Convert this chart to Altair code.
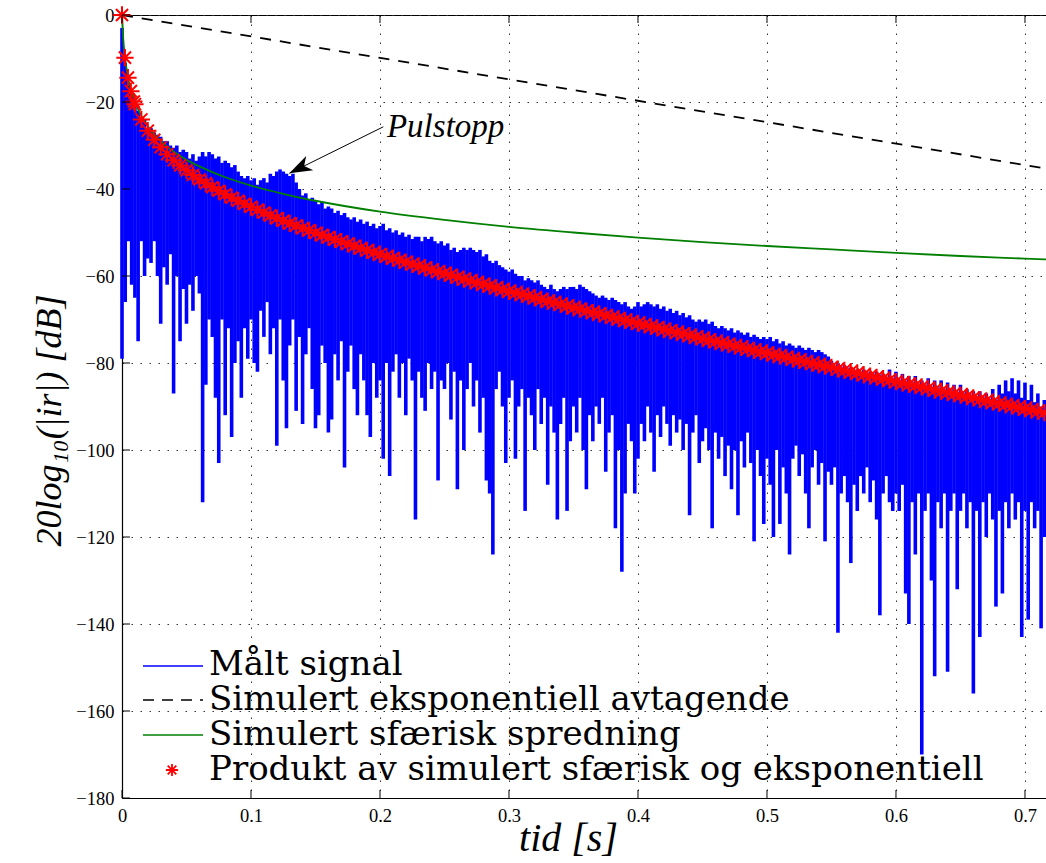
import altair as alt
import pandas as pd

# ---------------- data ----------------
X_MAX = 0.7163
x_ticks = [0, 0.1, 0.2, 0.3, 0.4, 0.5, 0.6, 0.7]
y_ticks = [-180, -160, -140, -120, -100, -80, -60, -40, -20, 0]

series_names = [
    "Målt signal",
    "Simulert eksponentiell avtagende",
    "Simulert sfærisk spredning",
    "Produkt av simulert sfærisk og eksponentiell",
]

# measured signal: upper and lower extent in each 2.5 ms column (dB)
SIG_STEP = 0.0025
sig_top = [
    -3, -11, -16, -18, -21, -22, -24, -24, -26, -26, -27, -27.5, -28, -29, -29, -30, -30.5, -30, -31.5, -31,
    -31.5, -33, -32, -33.5, -32.5, -31.5, -32.5, -31.5, -32, -33, -32.5, -34, -33.5, -34, -35, -34.5, -36, -37, -37.5, -37,
    -38, -37.5, -39, -38, -37.5, -38.5, -36.5, -37, -36, -35.5, -36, -36.5, -37, -36.5, -38.5, -40, -41.5, -41, -42.5, -42,
    -42.5, -43.5, -43, -44.5, -44, -44.5, -45.5, -45, -46, -45.5, -46.5, -47, -46.5, -47.5, -47, -48, -47.5, -48.5, -48, -49,
    -48.5, -48, -49.5, -49, -50, -49.5, -50.5, -50, -51, -50.5, -51.5, -51, -51, -52, -51, -51.5, -51, -52, -52.5, -52,
    -53, -52.5, -54, -53.5, -54.5, -54, -53.5, -54, -53.5, -54, -54.5, -54, -55.5, -55, -56.5, -57, -56.5, -57.5, -58, -58.5,
    -59, -58.5, -59.5, -60, -60, -61, -60.5, -61, -61.5, -61, -62, -62.5, -63, -62, -63, -63.5, -63, -62.5, -63, -62.5,
    -62.5, -63, -62, -62.5, -63, -63.5, -64, -64.5, -65, -64.5, -65, -65.5, -65, -65.5, -66, -66.5, -66, -67, -67.5, -67,
    -66, -67, -66.5, -66, -66.5, -67, -66.5, -67.5, -67, -68, -67.5, -68.5, -68, -69, -68.5, -69.5, -69, -70, -70.5, -70,
    -70.5, -70, -71, -70.5, -71.5, -72, -71.5, -72, -72.5, -72, -73, -72.5, -73, -73.5, -73, -74, -73.5, -74, -74.5, -74,
    -74.5, -74, -75, -74.5, -75.5, -75, -76, -75.5, -76, -76.5, -76, -76.5, -77, -76.5, -77, -77.5, -77, -77.5, -78, -78.5,
    -79.5, -81, -80, -81.5, -80.5, -82, -81, -82.5, -81.5, -83, -81.5, -83, -82, -83.5, -82, -84, -82.5, -84, -81.5, -83.5,
    -82, -84.5, -82.5, -85, -83, -85, -83, -85.5, -84, -86, -83.5, -86, -84, -86.5, -84, -86.5, -84.5, -87, -85, -87,
    -85, -87.5, -86, -88, -86.5, -88, -86.5, -88.5, -87, -89, -86, -88.5, -85, -87, -84, -86.5, -83.5, -87, -84, -88,
    -84.5, -88.5, -85, -89, -87, -90, -88.5, -91,
]
sig_bot = [
    -79, -66, -52, -62, -65, -75, -52, -60, -56, -57, -52, -60, -71, -58, -62, -55, -87, -60, -75, -63,
    -71, -62, -68, -60, -64, -112, -85, -70, -74, -88, -103, -70, -92, -72, -97, -80, -75, -88, -72, -79,
    -70, -80, -82, -68, -74, -66, -78, -72, -99, -70, -84, -95, -76, -70, -91, -74, -94, -78, -72, -86,
    -95, -92, -76, -80, -96, -93, -78, -84, -75, -104, -82, -76, -86, -92, -78, -84, -92, -97, -80, -88,
    -84, -102, -80, -106, -82, -78, -88, -80, -92, -79, -84, -116, -82, -88, -91, -80, -86, -82, -107, -84,
    -86, -80, -93, -82, -109, -84, -100, -86, -80, -90, -84, -96, -88, -107, -110, -124, -86, -82, -90, -103,
    -88, -84, -102, -90, -86, -114, -88, -92, -100, -86, -94, -88, -108, -90, -96, -116, -94, -88, -114, -98,
    -90, -96, -88, -100, -109, -92, -98, -90, -94, -88, -105, -96, -92, -118, -100, -128, -110, -94, -98, -110,
    -102, -94, -98, -90, -96, -105, -92, -97, -90, -94, -99, -92, -96, -93, -100, -94, -115, -96, -92, -103,
    -98, -95, -100, -118, -96, -102, -97, -106, -99, -109, -100, -115, -98, -104, -96, -103, -121, -100, -106, -117,
    -102, -108, -120, -100, -117, -104, -110, -124, -102, -99, -106, -101, -110, -118, -104, -100, -108, -103, -121, -105,
    -108, -104, -142, -110, -106, -112, -126, -108, -114, -106, -110, -104, -112, -107, -116, -138, -110, -106, -112, -114,
    -110, -114, -108, -133, -140, -112, -124, -110, -170, -114, -110, -130, -152, -112, -118, -110, -151, -114, -110, -132,
    -114, -110, -118, -112, -156, -114, -143, -112, -120, -110, -116, -136, -114, -133, -112, -118, -110, -116, -112, -143,
    -114, -139, -112, -118, -114, -141, -120, -112,
]

# simulated exponential decay (dashed)
dash_t = [0.0, 0.7163]
dash_db = [0.0, -35.3]

# simulated spherical spreading (green)
green_t = [0, 0.001, 0.002, 0.003, 0.005, 0.0075, 0.01, 0.015, 0.02, 0.03, 0.04, 0.05, 0.06, 0.08,
           0.1, 0.125, 0.15, 0.2, 0.25, 0.3, 0.35, 0.4, 0.45, 0.5, 0.55, 0.6, 0.65, 0.7, 0.7163]
green_db = [0, -5.6, -8.9, -11.4, -14.8, -17.8, -20.0, -23.2, -25.6, -29.0, -31.4, -33.3, -34.8, -37.3,
            -39.2, -41.1, -42.7, -45.2, -47.1, -48.7, -50.0, -51.2, -52.2, -53.1, -53.9, -54.7, -55.4, -56.0, -56.2]

# product (red asterisks)
red_t = [0.0, 0.0023, 0.0046, 0.0069, 0.0092] + [round(0.005 * j, 3) for j in range(2, 144)]
red_db = [
    0, -9.8, -14.4, -17.5, -19.9,
    -20.5, -24.0, -26.6, -28.7, -30.4, -32.0, -33.4, -34.6, -35.7, -36.8,
    -37.8, -38.7, -39.6, -40.4, -41.2, -42.0, -42.7, -43.4, -44.1, -44.8,
    -45.4, -46.1, -46.7, -47.3, -47.9, -48.4, -49.0, -49.5, -50.1, -50.6,
    -51.1, -51.6, -52.1, -52.6, -53.1, -53.6, -54.1, -54.6, -55.0, -55.5,
    -55.9, -56.4, -56.8, -57.3, -57.7, -58.1, -58.6, -59.0, -59.4, -59.8,
    -60.3, -60.7, -61.1, -61.5, -61.9, -62.3, -62.7, -63.1, -63.5, -63.9,
    -64.2, -64.6, -65.0, -65.4, -65.8, -66.1, -66.5, -66.9, -67.3, -67.6,
    -68.0, -68.4, -68.7, -69.1, -69.5, -69.8, -70.2, -70.5, -70.9, -71.2,
    -71.6, -71.9, -72.3, -72.6, -73.0, -73.3, -73.7, -74.0, -74.4, -74.7,
    -75.1, -75.4, -75.7, -76.1, -76.4, -76.7, -77.1, -77.4, -77.7, -78.1,
    -78.4, -78.7, -79.1, -79.4, -79.7, -80.1, -80.4, -80.7, -81.0, -81.4,
    -81.7, -82.0, -82.3, -82.7, -83.0, -83.3, -83.6, -83.9, -84.3, -84.6,
    -84.9, -85.2, -85.5, -85.8, -86.2, -86.5, -86.8, -87.1, -87.4, -87.7,
    -88.0, -88.4, -88.7, -89.0, -89.3, -89.6, -89.9, -90.2, -90.5, -90.8,
    -91.1, -91.4,
]

# annotation
ann_text = ["Pulstopp"]
ann_t = [0.2054]
ann_db = [-28.0]
arrow_t0, arrow_db0 = [0.2026], [-25.7]
arrow_t1, arrow_db1 = [0.1297], [-36.4]

# ---------------- build chart ----------------
n = min(len(sig_top), len(sig_bot))
sig_df = pd.DataFrame({
    "t": [round(SIG_STEP * k, 4) for k in range(n)],
    "top": sig_top[:n],
    "bot": sig_bot[:n],
})
dash_df = pd.DataFrame({"t": dash_t, "db": dash_db})
green_df = pd.DataFrame({"t": green_t, "db": green_db})
m = min(len(red_t), len(red_db))
red_df = pd.DataFrame({"t": red_t[:m], "db": red_db[:m]})

xs = alt.Scale(domain=[0, X_MAX], nice=False, zero=False)
ys = alt.Scale(domain=[-180, 0], nice=False, zero=False)
x_axis = alt.Axis(values=x_ticks, title="tid [s]",
                  labelExpr="datum.value == 0 ? '0' : format(datum.value, '.1f')")
y_axis = alt.Axis(values=y_ticks, title="20log₁₀(|ir|) [dB]", format="d")


def X(f):
    return alt.X(f, type="quantitative", scale=xs, axis=x_axis)


def Y(f):
    return alt.Y(f, type="quantitative", scale=ys, axis=y_axis)


ASTER = "M0,-1L0,1M-1,0L1,0M-0.7,-0.7L0.7,0.7M-0.7,0.7L0.7,-0.7"
ARROW = "M0,0L2,-0.7L1.45,0L2,0.7Z"

blue = alt.Chart(sig_df).mark_rule(color="#0000ff", strokeWidth=3.6).encode(
    x=X("t"), y=Y("top"), y2="bot")
dashed = alt.Chart(dash_df).mark_line(color="black", strokeDash=[11, 9], strokeWidth=1.8).encode(
    x=X("t"), y=Y("db"))
green = alt.Chart(green_df).mark_line(color="#007f00", strokeWidth=1.8, interpolate="monotone").encode(
    x=X("t"), y=Y("db"))
red = alt.Chart(red_df).mark_point(shape=ASTER, size=300, filled=False, color="#ff0000",
                                   strokeWidth=2.0, opacity=1).encode(x=X("t"), y=Y("db"))

# inward tick marks (MATLAB style)
tb_df = pd.DataFrame({"t": x_ticks, "y0": [-180] * len(x_ticks), "y1": [-178.16] * len(x_ticks)})
tt_df = pd.DataFrame({"t": x_ticks, "y0": [0] * len(x_ticks), "y1": [-1.84] * len(x_ticks)})
tl_df = pd.DataFrame({"y": y_ticks, "x0": [0] * len(y_ticks), "x1": [0.0062] * len(y_ticks)})
ticks_b = alt.Chart(tb_df).mark_rule(color="black", strokeWidth=1).encode(x=X("t"), y=Y("y0"), y2="y1")
ticks_t = alt.Chart(tt_df).mark_rule(color="black", strokeWidth=1).encode(x=X("t"), y=Y("y0"), y2="y1")
ticks_l = alt.Chart(tl_df).mark_rule(color="black", strokeWidth=1).encode(y=Y("y"), x=X("x0"), x2="x1")

ann_df = pd.DataFrame({"t": ann_t, "db": ann_db, "label": ann_text})
arr_df = pd.DataFrame({"t0": arrow_t0, "d0": arrow_db0, "t1": arrow_t1, "d1": arrow_db1})
ann_txt = alt.Chart(ann_df).mark_text(align="left", baseline="alphabetic", font="Liberation Serif",
                                      fontStyle="italic", fontSize=33, color="black").encode(
    x=X("t"), y=Y("db"), text="label:N")
arr_line = alt.Chart(arr_df).mark_rule(color="black", strokeWidth=1).encode(
    x=X("t0"), y=Y("d0"), x2="t1", y2="d1")
arr_head = alt.Chart(arr_df).mark_point(shape=ARROW, size=520, filled=True, color="black",
                                        angle=333.6, strokeWidth=0, opacity=1).encode(
    x=X("t1"), y=Y("d1"))

# legend (inside plot, lower left)
one = pd.DataFrame({"k": [0]})
leg_rows_y = [660, 695, 730, 765]
leg_layers = []
for name, yy in zip(series_names, leg_rows_y):
    leg_layers.append(
        alt.Chart(pd.DataFrame({"label": [name]})).mark_text(
            align="left", baseline="alphabetic", font="DejaVu Serif", fontSize=34, color="black"
        ).encode(x=alt.value(87), y=alt.value(yy), text="label:N")
    )
leg_blue = alt.Chart(one).mark_rule(color="#0000ff", strokeWidth=1.6).encode(
    x=alt.value(21), x2=alt.value(81), y=alt.value(651))
leg_dash = alt.Chart(one).mark_rule(color="black", strokeWidth=1.6, strokeDash=[11, 8]).encode(
    x=alt.value(21), x2=alt.value(81), y=alt.value(685))
leg_green = alt.Chart(one).mark_rule(color="#007f00", strokeWidth=1.6).encode(
    x=alt.value(21), x2=alt.value(81), y=alt.value(720))
leg_red = alt.Chart(one).mark_point(shape=ASTER, size=150, filled=False, color="#ff0000",
                                    strokeWidth=1.8, opacity=1).encode(x=alt.value(50), y=alt.value(755))

chart = alt.layer(
    blue, dashed, green, red, ticks_b, ticks_t, ticks_l, arr_line, arr_head, ann_txt,
    leg_blue, leg_dash, leg_green, leg_red, *leg_layers
).properties(
    width=924, height=783,
    padding={"left": 122, "top": 15, "right": 0, "bottom": 65},
    autosize=alt.AutoSizeParams(type="none"),
    background="white",
).configure_view(
    stroke="black", strokeWidth=1
).configure_axis(
    domainColor="black", domainWidth=1.2, ticks=False,
    labelFont="Liberation Serif", labelFontSize=18.5, labelColor="black", labelPadding=8,
    labelFlush=False, labelOverlap=False,
    grid=True, gridColor="#333333", gridDash=[1.5, 7.5], gridWidth=1,
    titleFont="Liberation Serif", titleFontStyle="italic", titleFontWeight="normal",
    titleColor="black",
).configure_axisX(
    titleX=446, titleY=52, titleBaseline="alphabetic", titleAlign="center", titleFontSize=40
).configure_axisY(
    titleX=-62, titleY=405, titleAngle=270, titleBaseline="alphabetic", titleAlign="center",
    titleFontSize=36
)

chart.save("out.html", embed_options={"renderer": "svg", "actions": False})
